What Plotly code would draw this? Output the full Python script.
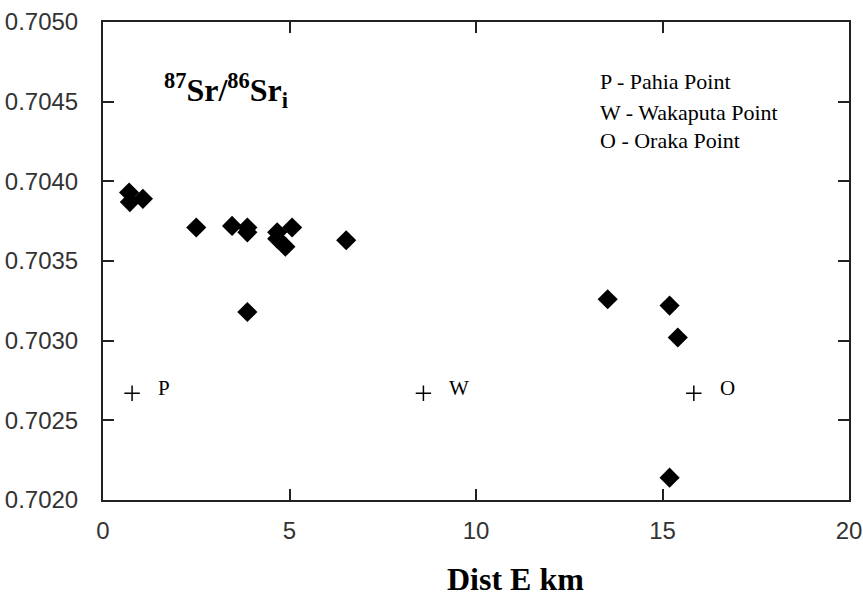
import plotly.graph_objects as go

# Sample data: distance east (km) and initial 87Sr/86Sr
dist_km = [0.70, 0.72, 1.07, 2.50, 3.46, 3.87, 3.87, 4.67, 4.67, 4.89, 5.07, 6.52, 3.87,
           13.53, 15.19, 15.41, 15.19]
sr_ratio = [0.70393, 0.70387, 0.70389, 0.70371, 0.70372, 0.70371, 0.70368, 0.70368,
            0.70364, 0.70359, 0.70371, 0.70363, 0.70318,
            0.70326, 0.70322, 0.70302, 0.70214]

# Locality markers
loc_x = [0.78, 8.59, 15.84]
loc_y = [0.70267, 0.70267, 0.70267]
loc_labels = ["P", "W", "O"]

legend_lines = ["P - Pahia Point", "W - Wakaputa Point", "O - Oraka Point"]

x_ticks = [0, 5, 10, 15, 20]
y_ticks = [0.7020, 0.7025, 0.7030, 0.7035, 0.7040, 0.7045, 0.7050]

fig = go.Figure()
fig.add_trace(go.Scatter(
    x=dist_km, y=sr_ratio, mode="markers",
    marker=dict(symbol="diamond", size=15.5, color="black", line=dict(width=0)),
    showlegend=False, hoverinfo="x+y"))
fig.add_trace(go.Scatter(
    x=loc_x, y=loc_y, mode="markers",
    marker=dict(symbol="cross-thin", size=11, color="black", line=dict(width=1.5, color="black")),
    showlegend=False, hoverinfo="x+y"))

for x, y, t in zip(loc_x, loc_y, loc_labels):
    fig.add_annotation(x=x, y=y, xref="x", yref="y", text=t, showarrow=False,
                       xanchor="left", yanchor="middle", xshift=24, yshift=5,
                       font=dict(family="Liberation Serif", size=21, color="black"))

leg_y = [0.8745, 0.8117, 0.7531]
for t, yy in zip(legend_lines, leg_y):
    fig.add_annotation(x=0.6635, y=yy, xref="paper", yref="paper", text=t, showarrow=False,
                       xanchor="left", yanchor="middle",
                       font=dict(family="Liberation Serif", size=22, color="black"))

fig.add_annotation(x=0.079, y=0.856, xref="paper", yref="paper",
                   text="<b><sup>87</sup>Sr/<sup>86</sup>Sr<sub>i</sub></b>",
                   showarrow=False, xanchor="left", yanchor="middle",
                   font=dict(family="Liberation Serif", size=32, color="black"))

fig.add_annotation(x=0.5536, y=-0.166, xref="paper", yref="paper",
                   text="<b>Dist E km</b>", showarrow=False,
                   xanchor="center", yanchor="middle",
                   font=dict(family="Liberation Serif", size=32, color="black"))

axis_common = dict(showgrid=False, zeroline=False, showline=True, linecolor="#222",
                   linewidth=2, mirror="ticks", ticks="inside", ticklen=11, tickwidth=2,
                   tickcolor="#222", automargin=False,
                   tickfont=dict(family="Liberation Sans", size=24, color="#333"))

fig.update_xaxes(range=[0, 20], tickvals=x_ticks, ticktext=[str(v) for v in x_ticks],
                 ticklabelstandoff=8, **axis_common)
fig.update_yaxes(range=[0.7020, 0.7050], tickvals=y_ticks,
                 ticktext=[f"{v:.4f}" for v in y_ticks], ticklabelstandoff=18, **axis_common)

fig.update_layout(width=863, height=598, margin=dict(l=103, r=14, t=22, b=98),
                  plot_bgcolor="white", paper_bgcolor="white")

fig.write_html("out.html")
